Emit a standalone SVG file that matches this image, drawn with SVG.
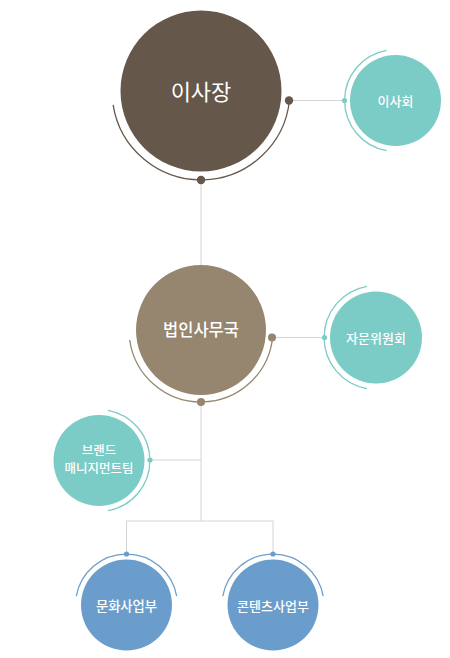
<svg xmlns="http://www.w3.org/2000/svg" width="450" height="658" viewBox="0 0 450 658">
<style>
.ln{stroke:#d4d4d4;stroke-width:1;fill:none}
.arc{fill:none;stroke-width:1.3}
.t{fill:#fff;font-family:"Noto Sans CJK KR","Noto Sans",sans-serif;text-anchor:middle}
.s{font-weight:500}
.brown1{fill:#65574a}
.brown2{fill:#96856f}
.teal{fill:#7bcbc6}
.blue{fill:#6b9dcc}
</style>
<rect width="450" height="658" fill="#fff"/>
<g id="connectors">
<line class="ln" x1="201" y1="180" x2="201" y2="266"/>
<line class="ln" x1="289.5" y1="100.5" x2="345" y2="100.5"/>
<line class="ln" x1="272.5" y1="337.5" x2="324" y2="337.5"/>
<line class="ln" x1="201" y1="402" x2="201" y2="521"/>
<line class="ln" x1="150" y1="460" x2="201" y2="460"/>
<polyline class="ln" points="126.5,554 126.5,521 273,521 273,554"/>
</g>
<g id="n-chairman">
<circle class="brown1" cx="201" cy="91" r="80.5"/>
<path class="arc" stroke="#65574a" d="M289.5,100.3 A89,89 0 0 1 113.1,104.9"/>
<circle class="brown1" cx="289" cy="100.5" r="4.2"/>
<circle class="brown1" cx="201" cy="180" r="4.2"/>
<text class="t" x="201" y="100" font-size="22">이사장</text>
</g>
<g id="n-board">
<circle class="teal" cx="395.5" cy="100.5" r="45.5"/>
<path class="arc" stroke="#7bcbc6" d="M386.6,50.3 A51,51 0 0 0 386.6,150.7"/>
<circle class="teal" cx="344.5" cy="100.5" r="2.6"/>
<text class="t s" x="395.5" y="106" font-size="13">이사회</text>
</g>
<g id="n-secretariat">
<circle class="brown2" cx="201" cy="330" r="65"/>
<path class="arc" stroke="#96856f" d="M272.6,337.5 A72,72 0 0 1 129.7,340"/>
<circle class="brown2" cx="272" cy="337.5" r="4"/>
<circle class="brown2" cx="201" cy="402" r="4"/>
<text class="t s" x="201" y="336" font-size="16.5">법인사무국</text>
</g>
<g id="n-advisory">
<circle class="teal" cx="376" cy="337.5" r="46"/>
<path class="arc" stroke="#7bcbc6" d="M367,286.3 A52,52 0 0 0 367,388.7"/>
<circle class="teal" cx="324.5" cy="337.5" r="2.6"/>
<text class="t s" x="376" y="343" font-size="13">자문위원회</text>
</g>
<g id="n-brand">
<circle class="teal" cx="99" cy="460.5" r="45.5"/>
<path class="arc" stroke="#7bcbc6" d="M107.9,410.3 A51,51 0 0 1 107.9,510.7"/>
<circle class="teal" cx="150" cy="460" r="2.6"/>
<text class="t s" x="99" y="454.5" font-size="12.5">브랜드</text>
<text class="t s" x="99" y="473" font-size="12.5">매니지먼트팀</text>
</g>
<g id="n-culture">
<circle class="blue" cx="126.5" cy="605" r="45.5"/>
<path class="arc" stroke="#6b9dcc" d="M76.3,596.1 A51,51 0 0 1 176.7,596.1"/>
<circle class="blue" cx="126.5" cy="554" r="2.6"/>
<text class="t s" x="126.5" y="611" font-size="13.3">문화사업부</text>
</g>
<g id="n-content">
<circle class="blue" cx="273" cy="605" r="45.5"/>
<path class="arc" stroke="#6b9dcc" d="M222.8,596.1 A51,51 0 0 1 323.2,596.1"/>
<circle class="blue" cx="273" cy="554" r="2.6"/>
<text class="t s" x="273" y="611" font-size="13">콘텐츠사업부</text>
</g>
</svg>
